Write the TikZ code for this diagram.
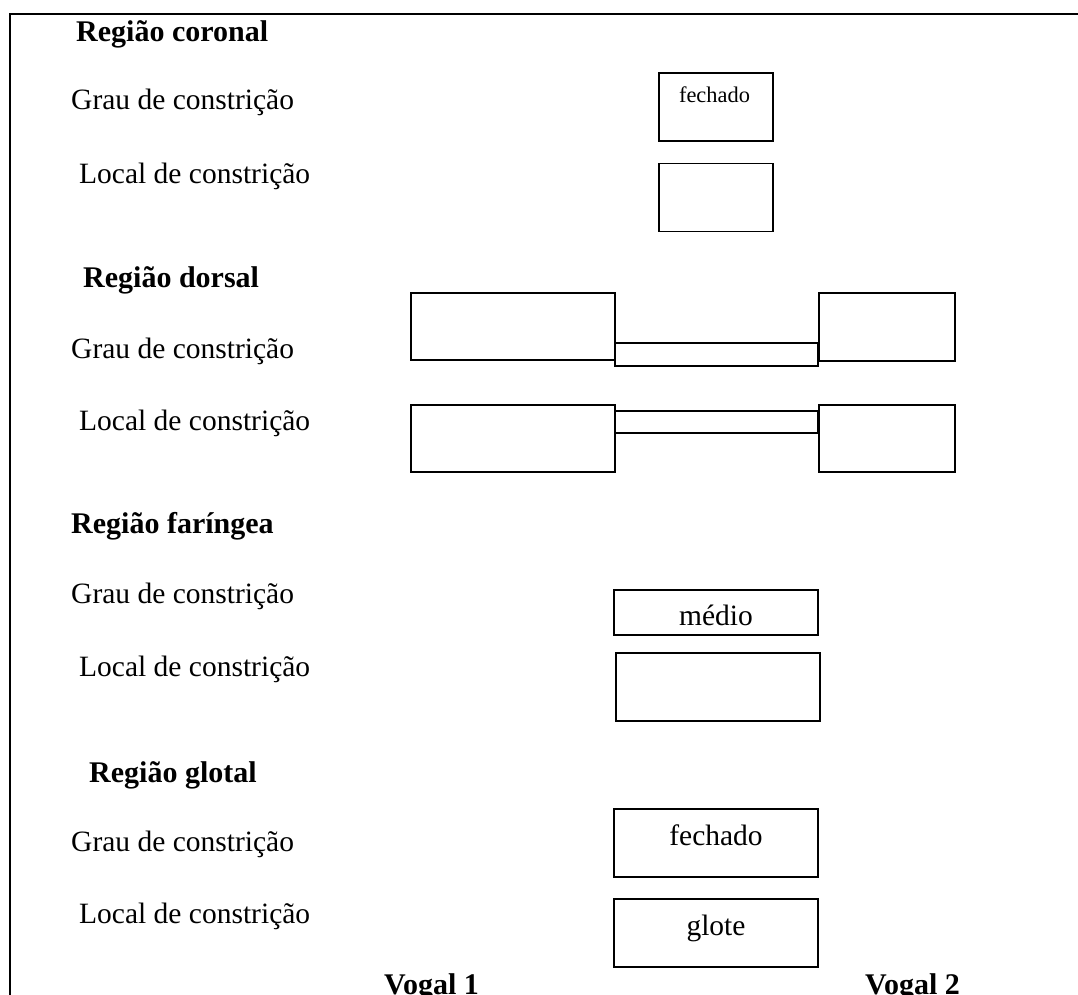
\documentclass[tikz,border=0pt]{standalone}
\usepackage{fontspec}
\setmainfont{Liberation Serif}
\begin{document}
\begin{tikzpicture}[x=1pt,y=-1pt,
  lbl/.style={anchor=base west,inner sep=0pt,font=\fontsize{29.5}{34}\selectfont},
  hd/.style={anchor=base west,inner sep=0pt,font=\fontsize{30}{34}\selectfont\bfseries},
  intext/.style={anchor=base,inner sep=0pt,font=\fontsize{29.5}{34}\selectfont},
  smalltext/.style={anchor=base,inner sep=0pt,font=\fontsize{22.4}{26}\selectfont},
  box/.style={draw,line width=1.4pt,anchor=north west,inner sep=0pt,outer sep=0pt},
  frame/.style={line width=2.6pt}]
\useasboundingbox (0,0) rectangle (1078,995);
% frame
\coordinate (fa) at (10,995);
\coordinate (fb) at (10,14);
\coordinate (fc) at (1078,14);
\draw[frame] (fa) -- (fb) -- (fc);

% Coronal
\node[hd] (hcor) at (76,42) {Região coronal};
\node[lbl] (gcor) at (71,110) {Grau de constrição};
\node[lbl] (lcor) at (79,184) {Local de constrição};
\node[box,minimum width=114pt,minimum height=68pt] (bcg) at (659,73) {};
\node[box,minimum width=114pt,minimum height=68pt] (bcl) at (659,163.5) {};
\node[smalltext] (tcg) at (714.5,103) {fechado};

% Dorsal
\node[hd] (hdor) at (83,287) {Região dorsal};
\node[lbl] (gdor) at (71,358) {Grau de constrição};
\node[lbl] (ldor) at (79,430) {Local de constrição};
\node[box,minimum width=204pt,minimum height=67pt] (bdg1) at (411,293) {};
\node[box,minimum width=203pt,minimum height=23pt] (bdg2) at (615,343) {};
\node[box,minimum width=136pt,minimum height=68pt] (bdg3) at (819,293) {};
\node[box,minimum width=204pt,minimum height=67pt] (bdl1) at (411,405) {};
\node[box,minimum width=203pt,minimum height=22pt] (bdl2) at (615,411) {};
\node[box,minimum width=136pt,minimum height=67pt] (bdl3) at (819,405) {};

% Faringea
\node[hd] (hfar) at (71,533) {Região faríngea};
\node[lbl] (gfar) at (71,603) {Grau de constrição};
\node[lbl] (lfar) at (79,676) {Local de constrição};
\node[box,minimum width=204pt,minimum height=45pt] (bfg) at (614,590) {};
\node[box,minimum width=204pt,minimum height=68pt] (bfl) at (616,653) {};
\node[intext] (tfg) at (716,625) {médio};

% Glotal
\node[hd] (hglo) at (89,782) {Região glotal};
\node[lbl] (gglo) at (71,851) {Grau de constrição};
\node[lbl] (lglo) at (79,923) {Local de constrição};
\node[box,minimum width=204pt,minimum height=68pt] (bgg) at (614,809) {};
\node[box,minimum width=204pt,minimum height=68pt] (bgl) at (614,899) {};
\node[intext] (tgg) at (716,845) {fechado};
\node[intext] (tgl) at (716,935) {glote};

% Vowels
\node[hd] (v1) at (384,994) {Vogal 1};
\node[hd] (v2) at (865,994) {Vogal 2};
\end{tikzpicture}
\end{document}
